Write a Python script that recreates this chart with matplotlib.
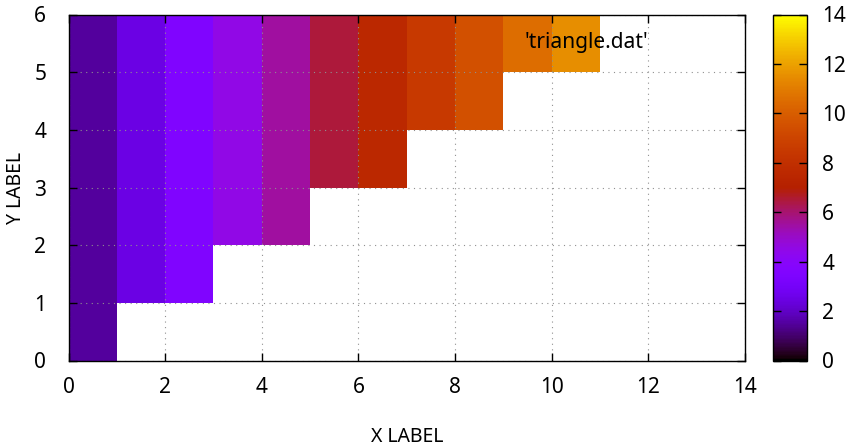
import numpy as np
import matplotlib.pyplot as plt
import matplotlib as mpl

plt.rcParams["font.family"] = ["Noto Sans", "DejaVu Sans"]

# =========================================================
# DATA
# =========================================================
col_left = [0, 1, 2, 3, 4, 5, 6, 7, 8, 9, 10]          # left edge of each column
col_bottom = [0, 1, 1, 2, 2, 3, 3, 4, 4, 5, 5]         # lowest y of filled cells
col_top = 6
col_value = [1.5, 2.5, 3.5, 4.5, 5.5, 6.5, 7.5, 8.5, 9.5, 10.5, 11.5]

x_ticks = [0, 2, 4, 6, 8, 10, 12, 14]
y_ticks = [0, 1, 2, 3, 4, 5, 6]
cb_ticks = [0, 2, 4, 6, 8, 10, 12, 14]
key_label = "'triangle.dat'"

# =========================================================
# BUILD GRID
# =========================================================
nx = len(col_left)
Z = np.full((col_top, nx), np.nan)
for i in range(nx):
    for j in range(col_bottom[i], col_top):
        Z[j, i] = col_value[i]
Z = np.ma.masked_invalid(Z)
xe = np.arange(nx + 1)
ye = np.arange(col_top + 1)

# =========================================================
# PLOT
# =========================================================
FS = 15
W, H = 850, 446
fig = plt.figure(figsize=(W / 100, H / 100), dpi=100)
ax = fig.add_axes([68.5 / W, 1 - 360.5 / H, (745 - 68.5) / W, (360.5 - 14.5) / H])
cax = fig.add_axes([773 / W, 1 - 360.5 / H, (807 - 773) / W, (360.5 - 14.5) / H])

cmap = mpl.colormaps["gnuplot"]
norm = mpl.colors.Normalize(vmin=0, vmax=14)
mesh = ax.pcolormesh(xe, ye, Z, cmap=cmap, norm=norm, shading="flat",
                     edgecolors="none", zorder=1)

ax.set_xlim(0, 14)
ax.set_ylim(0, 6)
ax.set_xticks(x_ticks)
ax.set_yticks(y_ticks)
ax.grid(True, color="#909090", linestyle=(0, (1, 4)), linewidth=0.8, zorder=3)
ax.set_axisbelow(False)
ax.tick_params(direction="in", length=6, width=1, top=True, right=True,
               labelsize=FS, colors="black")
ax.tick_params(axis="x", pad=12)
ax.tick_params(axis="y", pad=16)
for s in ax.spines.values():
    s.set_linewidth(1)
    s.set_zorder(4)
ax.set_xlabel("X LABEL", fontsize=14, va="center")
ax.set_ylabel("Y LABEL", fontsize=14, va="center")
ax.xaxis.set_label_coords(0.5, -0.221)
ax.yaxis.set_label_coords(-0.077, 0.5)

ax.text(12.0, 5.52, key_label, ha="right", va="center", fontsize=FS, zorder=5)

cb = fig.colorbar(mesh, cax=cax, ticks=cb_ticks)
cb.outline.set_linewidth(1)
cax.tick_params(direction="in", length=6, width=1, left=True, right=True,
                labelsize=FS, pad=11)
cb.ax.set_yticklabels([str(t) for t in cb_ticks])

fig.savefig("out.png", dpi=100)
